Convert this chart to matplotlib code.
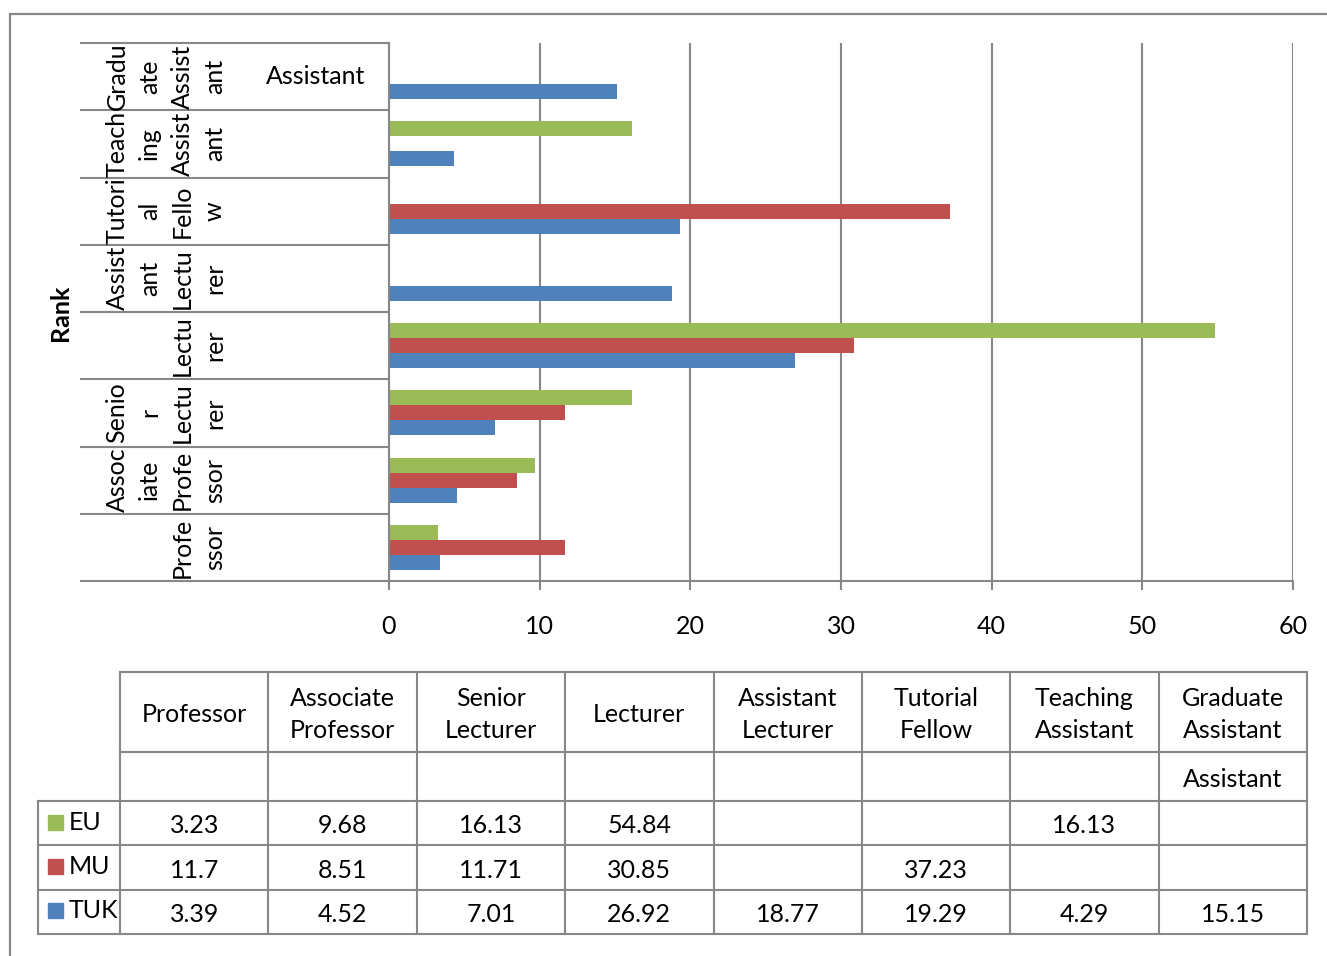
import numpy as np
import matplotlib
matplotlib.use("Agg")
import matplotlib.pyplot as plt
from matplotlib.patches import Rectangle

plt.rcParams['font.family'] = ['Lato', 'DejaVu Sans']

# academic ranks, bottom to top
ranks = ["Professor", "Associate Professor", "Senior Lecturer", "Lecturer",
         "Assistant Lecturer", "Tutorial Fellow", "Teaching Assistant",
         "Graduate Assistant"]
# wrapped labels as they appear on the category axis
rank_wrapped = ["Profe\nssor", "Assoc\niate\nProfe\nssor", "Senio\nr\nLectu\nrer",
                "Lectu\nrer", "Assist\nant\nLectu\nrer", "Tutori\nal\nFello\nw",
                "Teach\ning\nAssist\nant", "Gradu\nate\nAssist\nant"]
# header text in the data table
rank_header = ["Professor", "Associate\nProfessor", "Senior\nLecturer", "Lecturer",
               "Assistant\nLecturer", "Tutorial\nFellow", "Teaching\nAssistant",
               "Graduate\nAssistant"]
sub_labels = ["", "", "", "", "", "", "", "Assistant"]

series = ["EU", "MU", "TUK"]
colors = ["#9BBB59", "#C0504D", "#4F81BD"]
nan = np.nan
eu = [3.23, 9.68, 16.13, 54.84, nan, nan, 16.13, nan]
mu = [11.7, 8.51, 11.71, 30.85, nan, 37.23, nan, nan]
tuk = [3.39, 4.52, 7.01, 26.92, 18.77, 19.29, 4.29, 15.15]
values = [eu, mu, tuk]

W, H = 1327, 956
FS = 18
LS = 1.5
GRAY = "#878787"

fig = plt.figure(figsize=(W / 100, H / 100), dpi=100)

# outer chart frame
fig.add_artist(Rectangle((10 / W, -0.1), 1.2, 1.1 - 14 / H, transform=fig.transFigure,
                         fill=False, edgecolor=GRAY, lw=1.6))

# bar chart
ax = fig.add_axes([389 / W, 1 - 581 / H, (1293 - 389) / W, (581 - 43) / H])
y = np.arange(len(ranks))
h = 0.223
offsets = [h, 0, -h]
for vals, col, off, name in zip(values, colors, offsets, series):
    ax.barh(y + off, np.nan_to_num(vals), height=h, color=col, label=name)
ax.set_xlim(0, 60)
ax.set_ylim(-0.5, len(ranks) - 0.5)
ax.set_xticks(range(0, 61, 10))
ax.set_yticks([])
ax.grid(axis='x', color=GRAY, lw=1.5)
ax.set_axisbelow(True)
for s in ["top", "right"]:
    ax.spines[s].set_visible(False)
for s in ["left", "bottom"]:
    ax.spines[s].set_color(GRAY)
    ax.spines[s].set_linewidth(1.5)
ax.tick_params(axis='x', length=6.5, width=1.5, color=GRAY, pad=18, labelsize=FS)

# category label area with separators
lab = fig.add_axes([80 / W, 1 - 581 / H, (389 - 80) / W, (581 - 43) / H])
lab.set_xlim(80, 389)
lab.set_ylim(-0.5, len(ranks) - 0.5)
lab.axis("off")
lab.hlines(np.arange(len(ranks) + 1) - 0.5, 80, 389, color=GRAY, lw=1.5, clip_on=False)
for i, (txt, sub) in enumerate(zip(rank_wrapped, sub_labels)):
    lab.text(226, i, txt, rotation=90, ha='right', va='center',
             multialignment='center', linespacing=LS, fontsize=FS)
    if sub:
        lab.text(316, i, sub, ha='center', va='center', fontsize=FS)

fig.text(60 / W, 1 - 313 / H, "Rank", rotation=90, ha='center', va='center',
         fontsize=FS, fontweight='bold')

# data table under the chart
tab = fig.add_axes([120 / W, 1 - 934 / H, (1307 - 120) / W, (934 - 672) / H])
row_edges = [0, 1.8, 2.9, 3.9, 4.9, 5.9]
ncol = len(ranks)
leg_w = 82 / 148.4
tab.set_xlim(0, ncol)
tab.set_ylim(row_edges[-1], 0)
tab.axis("off")
for x in range(ncol + 1):
    tab.plot([x, x], [0, row_edges[-1]], color=GRAY, lw=1.5, clip_on=False)
tab.plot([-leg_w, -leg_w], [row_edges[2], row_edges[-1]], color=GRAY, lw=1.5, clip_on=False)
for k, yy in enumerate(row_edges):
    x0 = 0 if k < 2 else -leg_w
    tab.plot([x0, ncol], [yy, yy], color=GRAY, lw=1.5, clip_on=False)

dy = 0.06  # nudge text down a little inside its cell
for j, (hd, sub) in enumerate(zip(rank_header, sub_labels)):
    tab.text(j + 0.5, row_edges[1] / 2 + dy, hd, ha='center', va='center',
             multialignment='center', linespacing=LS, fontsize=FS)
    if sub:
        tab.text(j + 0.5, (row_edges[1] + row_edges[2]) / 2 + dy, sub,
                 ha='center', va='center', fontsize=FS)

kw = 15 / 148.4
kh = 15 / 44.4
for r, (name, col, vals) in enumerate(zip(series, colors, values)):
    yc = (row_edges[2 + r] + row_edges[3 + r]) / 2
    tab.add_patch(Rectangle((-leg_w + 10 / 148.4, yc - kh / 2 - 0.02), kw, kh,
                            color=col, clip_on=False))
    tab.text(-leg_w + 31 / 148.4, yc - 0.02, name, ha='left', va='center', fontsize=FS)
    for j, v in enumerate(vals):
        if not np.isnan(v):
            tab.text(j + 0.5, yc + dy, f"{v:g}", ha='center', va='center', fontsize=FS)

fig.savefig("out.png", dpi=100)
